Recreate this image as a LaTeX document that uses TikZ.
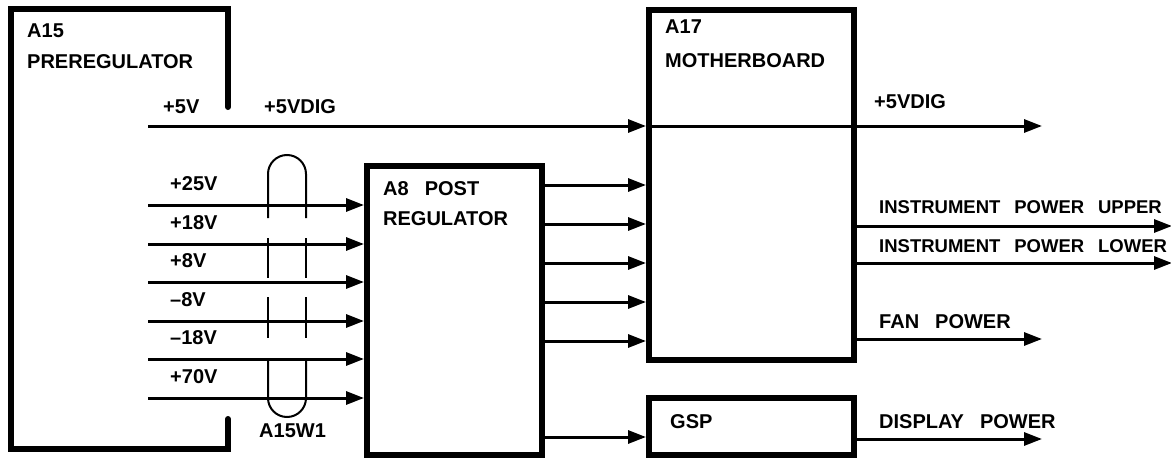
\documentclass[tikz,border=0pt]{standalone}
\usepackage{fontspec}
\setmainfont{Liberation Sans}
\usetikzlibrary{arrows.meta,positioning}
\begin{document}
\begin{tikzpicture}[x=1pt, y=-1pt, >={Triangle[length=18pt,width=13pt]},
    box/.style={draw, line width=6pt, anchor=north west, inner sep=0pt},
    wire/.style={line width=3pt},
    cable/.style={line width=2pt},
    lbl/.style={anchor=base west, inner sep=0pt, font=\bfseries\fontsize{20}{24}\selectfont},
    outlbl/.style={lbl, font=\bfseries\fontsize{18.5}{22}\selectfont}]

        \useasboundingbox (0,0) rectangle (1171,458);

        % ==================== A15 preregulator ====================
        \draw[line width=6pt, line cap=round] (228,107) -- (228,9) -- (11,9) -- (11,449) -- (228,449) -- (228,419);
        \node[lbl] (a15num) at (27,37) {A15};
        \node[lbl] (a15name) at (27,68) {PREREGULATOR};

        % ==================== boxes ====================
        \node[box, minimum width=175pt, minimum height=289pt] (a8) at (364,163) {};
        \node[box, minimum width=205pt, minimum height=350pt] (a17) at (646,7) {};
        \node[box, minimum width=205pt, minimum height=57pt] (gsp) at (646,395) {};
        \node[lbl] (a8num) at (383,195) {A8\hspace{0.8em}POST};
        \node[lbl] (a8name) at (383,225) {REGULATOR};
        \node[lbl] (a17num) at (665,33) {A17};
        \node[lbl] (a17name) at (665,67) {MOTHERBOARD};
        \node[lbl] (gspname) at (670,428) {GSP};

        % ==================== +5V line ====================
        \coordinate (p5) at (148,126);
        \coordinate (o5) at (1042,126);
        \node[lbl] (p5lbl) at (163,113) {+5V};
        \node[lbl] (p5dig) at (264,113) {+5VDIG};
        \node[lbl] (o5dig) at (874,108) {+5VDIG};
        \draw[wire,->] (p5) -- (p5 -| a17.west);
        \draw[wire,->] (p5 -| a17.west) -- (o5);

        % ==================== A15 -> A8 ====================
        \foreach \txt/\yy [count=\i] in {+25V/205, +18V/244, +8V/282, \textendash8V/321, \textendash18V/359, +70V/398} {
            \coordinate (in\i) at (148,\yy);
            \node[lbl] (inlbl\i) at (170,\yy-15) {\txt};
            \draw[wire,->] (in\i) -- (in\i -| a8.west);
        }

        % cable A15W1
        \draw[cable] (268,218) -- (268,174) arc[start angle=180, end angle=0, radius=19pt] -- (306,218);
        \draw[cable] (268,238) -- (268,278) (306,238) -- (306,278);
        \draw[cable] (268,297) -- (268,338) (306,297) -- (306,338);
        \draw[cable] (268,358) -- (268,398) arc[start angle=180, end angle=360, radius=19pt] -- (306,358);
        \node[lbl] (w1lbl) at (259,437) {A15W1};

        % ==================== A8 -> A17, GSP ====================
        \foreach \yy in {185,224,263,302,341}
            \draw[wire,->] (a8.east |- 0,\yy) -- (a17.west |- 0,\yy);
        \draw[wire,->] (a8.east |- 0,437) -- (gsp.west |- 0,437);

        % ==================== outputs ====================
        \coordinate (oup) at (1172,226);
        \coordinate (olow) at (1172,263);
        \coordinate (ofan) at (1042,339);
        \coordinate (odisp) at (1042,439);
        \draw[wire,->] (a17.east |- oup) -- (oup);
        \draw[wire,->] (a17.east |- olow) -- (olow);
        \draw[wire,->] (a17.east |- ofan) -- (ofan);
        \draw[wire,->] (gsp.east |- odisp) -- (odisp);
        \node[outlbl] (uplbl) at (879,213) {INSTRUMENT\hspace{0.75em}POWER\hspace{0.75em}UPPER};
        \node[outlbl] (lowlbl) at (879,252) {INSTRUMENT\hspace{0.75em}POWER\hspace{0.75em}LOWER};
        \node[lbl] (fanlbl) at (879,328) {FAN\hspace{0.8em}POWER};
        \node[lbl] (displbl) at (879,428) {DISPLAY\hspace{0.8em}POWER};

\end{tikzpicture}
\end{document}
